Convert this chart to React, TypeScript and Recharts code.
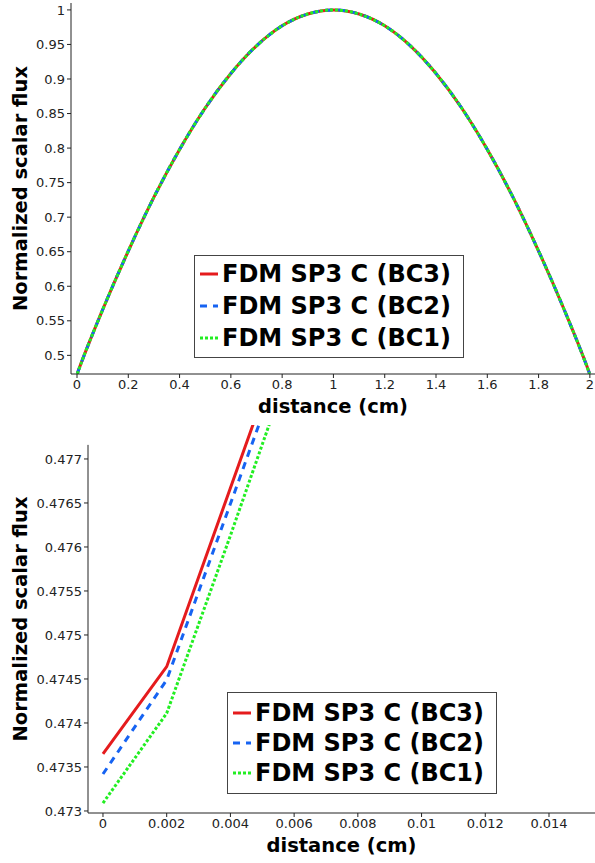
import { LineChart, Line, XAxis, YAxis, Legend, Label, ReferenceLine } from 'recharts';

// distance along the slab (cm); dense near both edges where the solver grid is fine
const distance = [
  0, 0.002, 0.004, 0.006, 0.1, 0.2, 0.3, 0.4, 0.5, 0.6, 0.7, 0.8, 0.9, 1.0,
  1.1, 1.2, 1.3, 1.4, 1.5, 1.6, 1.7, 1.8, 1.9, 1.994, 1.996, 1.998, 2.0,
];

const fluxBC3 = [
  0.47365, 0.47464, 0.47667, 0.4787, 0.566, 0.651, 0.729, 0.798, 0.858, 0.908, 0.948, 0.977, 0.994, 1.0,
  0.994, 0.977, 0.948, 0.908, 0.858, 0.798, 0.729, 0.651, 0.566, 0.4787, 0.47667, 0.47464, 0.47365,
];
const fluxBC2 = [
  0.47342, 0.47449, 0.47649, 0.4785, 0.566, 0.651, 0.729, 0.798, 0.858, 0.908, 0.948, 0.977, 0.994, 1.0,
  0.994, 0.977, 0.948, 0.908, 0.858, 0.798, 0.729, 0.651, 0.566, 0.4785, 0.47649, 0.47449, 0.47342,
];
const fluxBC1 = [
  0.47309, 0.47411, 0.47613, 0.4782, 0.566, 0.651, 0.729, 0.798, 0.858, 0.908, 0.948, 0.977, 0.994, 1.0,
  0.994, 0.977, 0.948, 0.908, 0.858, 0.798, 0.729, 0.651, 0.566, 0.4782, 0.47613, 0.47411, 0.47309,
];

const fullXTicks = [0, 0.2, 0.4, 0.6, 0.8, 1, 1.2, 1.4, 1.6, 1.8, 2];
const fullYTicks = [0.5, 0.55, 0.6, 0.65, 0.7, 0.75, 0.8, 0.85, 0.9, 0.95, 1];
const zoomXTicks = [0, 0.002, 0.004, 0.006, 0.008, 0.01, 0.012, 0.014];
const zoomYTicks = [0.473, 0.4735, 0.474, 0.4745, 0.475, 0.4755, 0.476, 0.4765, 0.477];

const SERIES = [
  { key: 'bc3', name: 'FDM SP3 C (BC3)', color: '#e51b1d', dash: undefined as string | undefined },
  { key: 'bc2', name: 'FDM SP3 C (BC2)', color: '#1663f2', dash: '7 6' },
  { key: 'bc1', name: 'FDM SP3 C (BC1)', color: '#22ee22', dash: '3 2' },
];

const data = distance.map((x, i) => ({ x, bc3: fluxBC3[i], bc2: fluxBC2[i], bc1: fluxBC1[i] }));

const FONT = '"DejaVu Sans", sans-serif';
const AXIS = '#222';
const tickStyle = { fill: '#222', fontSize: 13, fontFamily: FONT };
const titleStyle = { fill: '#000', fontSize: 19.5, fontWeight: 'bold', fontFamily: FONT };

function YTitle({ viewBox }: any) {
  const cx = viewBox.x + 20;
  const cy = viewBox.y + viewBox.height / 2;
  return (
    <text
      x={cx}
      y={cy}
      transform={`rotate(-90 ${cx} ${cy})`}
      textAnchor="middle"
      dominantBaseline="central"
      style={titleStyle}
    >
      Normalized scalar flux
    </text>
  );
}

function FluxLegend({ rowHeight, padTop }: { rowHeight: number; padTop: number }) {
  return (
    <div
      style={{
        boxSizing: 'border-box',
        width: '100%',
        height: '100%',
        border: '1px solid #444',
        background: '#fff',
        paddingTop: padTop,
        paddingLeft: 4,
        fontFamily: FONT,
        fontWeight: 'bold',
        fontSize: 24,
        color: '#000',
      }}
    >
      {SERIES.map((s) => (
        <div key={s.key} style={{ display: 'flex', alignItems: 'center', height: rowHeight, whiteSpace: 'nowrap' }}>
          <svg width={20} height={6} style={{ flex: 'none' }}>
            <line x1={1} y1={3} x2={19} y2={3} stroke={s.color} strokeWidth={3} strokeDasharray={s.dash} />
          </svg>
          <span style={{ marginLeft: 3 }}>{s.name}</span>
        </div>
      ))}
    </div>
  );
}

export default function App() {
  return (
    <div style={{ position: 'absolute', left: 0, top: 0, width: 595, height: 863, background: '#fff' }}>
      <div style={{ position: 'absolute', left: 0, top: 0 }}>
        <LineChart width={595} height={420} data={data} margin={{ top: 3, right: 0, bottom: 0, left: 0 }}>
          <XAxis
            dataKey="x"
            type="number"
            domain={[-0.0234, 2.02]}
            ticks={fullXTicks}
            allowDataOverflow
            height={46}
            tick={tickStyle}
            tickSize={4}
            stroke={AXIS}
          >
            <Label value="distance (cm)" position="insideBottom" offset={7} style={titleStyle} />
          </XAxis>
          <YAxis
            type="number"
            domain={[0.473, 1.01]}
            ticks={fullYTicks}
            allowDataOverflow
            width={71}
            tick={tickStyle}
            tickSize={4}
            stroke={AXIS}
          >
            <Label content={YTitle} />
          </YAxis>
          {SERIES.map((s) => (
            <Line
              key={s.key}
              dataKey={s.key}
              name={s.name}
              type="monotone"
              stroke={s.color}
              strokeWidth={3}
              strokeDasharray={s.dash}
              dot={false}
              isAnimationActive={false}
            />
          ))}
          <Legend
            layout="vertical"
            align="center"
            verticalAlign="middle"
            wrapperStyle={{ left: 194, top: 255, width: 270, height: 103 }}
            content={() => <FluxLegend rowHeight={32} padTop={2} />}
          />
        </LineChart>
      </div>
      <div style={{ position: 'absolute', left: 0, top: 420 }}>
        <LineChart width={595} height={443} data={data} margin={{ top: 5, right: 0, bottom: 0, left: 0 }}>
          <XAxis
            dataKey="x"
            type="number"
            domain={[-0.00047, 0.015444]}
            ticks={zoomXTicks}
            allowDataOverflow
            height={50}
            tick={tickStyle}
            tickSize={4}
            stroke={AXIS}
          >
            <Label value="distance (cm)" position="insideBottom" offset={11} style={titleStyle} />
          </XAxis>
          <YAxis
            type="number"
            domain={[0.472977, 0.477386]}
            ticks={zoomYTicks}
            allowDataOverflow
            width={88}
            tick={tickStyle}
            tickSize={4}
            stroke={AXIS}
            axisLine={false}
          >
            <Label content={YTitle} />
          </YAxis>
          <ReferenceLine
            segment={[{ x: -0.00047, y: 0.472977 }, { x: -0.00047, y: 0.47716 }]}
            stroke={AXIS}
            strokeWidth={1}
          />
          {SERIES.map((s) => (
            <Line
              key={s.key}
              dataKey={s.key}
              name={s.name}
              type="linear"
              stroke={s.color}
              strokeWidth={3}
              strokeDasharray={s.dash}
              dot={false}
              isAnimationActive={false}
            />
          ))}
          <Legend
            layout="vertical"
            align="center"
            verticalAlign="middle"
            wrapperStyle={{ left: 227, top: 272, width: 270, height: 102 }}
            content={() => <FluxLegend rowHeight={30} padTop={5} />}
          />
        </LineChart>
      </div>
    </div>
  );
}
